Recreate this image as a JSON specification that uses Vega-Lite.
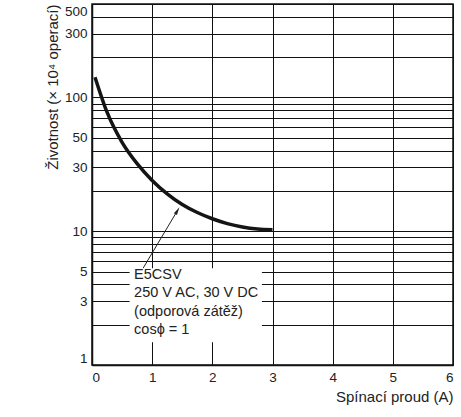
{
  "$schema": "https://vega.github.io/schema/vega-lite/v6.json",
  "width": 361,
  "height": 361,
  "autosize": {"type": "none"},
  "padding": {"left": 92, "top": 4, "right": 8, "bottom": 52},
  "background": "white",
  "config": {
    "view": {"stroke": "#111", "strokeWidth": 1.5},
    "font": "Liberation Sans",
    "axis": {
      "labelFont": "Liberation Sans",
      "titleFont": "Liberation Sans",
      "labelColor": "#222",
      "titleColor": "#222",
      "titleFontWeight": "normal",
      "gridColor": "#111",
      "gridOpacity": 1,
      "gridWidth": 1,
      "domainColor": "#111",
      "domainWidth": 1.5,
      "ticks": false
    }
  },
  "datasets": {
    "curve": [
      {"current": 0.05, "life": 141.9},
      {"current": 0.25, "life": 77.6},
      {"current": 0.5, "life": 46.2},
      {"current": 0.75, "life": 32.0},
      {"current": 1.0, "life": 24.0},
      {"current": 1.25, "life": 19.05},
      {"current": 1.5, "life": 15.85},
      {"current": 1.75, "life": 13.8},
      {"current": 2.0, "life": 12.4},
      {"current": 2.25, "life": 11.4},
      {"current": 2.5, "life": 10.76},
      {"current": 2.75, "life": 10.4},
      {"current": 3.0, "life": 10.28}
    ],
    "box": [{"x1": 0.625, "x2": 2.824, "y1": 1.48, "y2": 5.28}],
    "labels": [
      {"x": 0.7, "y": 4.69, "text": "E5CSV"},
      {"x": 0.7, "y": 3.44, "text": "250 V AC, 30 V DC"},
      {"x": 0.7, "y": 2.48, "text": "(odporová zátěž)"},
      {"x": 0.7, "y": 1.82, "text": "cosϕ = 1"}
    ],
    "arrow": [{"x1": 0.85, "y1": 5.3, "x2": 1.42, "y2": 14.26}],
    "head": [{"x": 1.42, "y": 14.26}]
  },
  "layer": [
    {
      "data": {"name": "box"},
      "mark": {"type": "rect", "fill": "white", "stroke": null},
      "encoding": {
        "x": {
          "field": "x1", "type": "quantitative",
          "scale": {"domain": [0, 6], "nice": false, "zero": false},
          "axis": {
            "values": [0, 1, 2, 3, 4, 5, 6],
            "format": "d",
            "grid": true,
            "labelFontSize": 13.5,
            "labelPadding": 5,
            "title": "Spínací proud (A)",
            "titleFontSize": 15,
            "titleAnchor": "end",
            "titlePadding": 6
          }
        },
        "x2": {"field": "x2"},
        "y": {
          "field": "y1", "type": "quantitative",
          "scale": {"type": "log", "domain": [1, 500], "nice": false},
          "axis": {
            "values": [1, 2, 3, 4, 5, 6, 7, 8, 9, 10, 20, 30, 40, 50, 60, 70, 80, 90, 100, 200, 300, 400, 500],
            "labelExpr": "indexof([1,3,5,10,30,50,100,300,500], datum.value) >= 0 ? datum.label : ''",
            "labelFlush": true,
            "grid": true,
            "labelFontSize": 13.5,
            "labelPadding": 5,
            "title": "Životnost (× 10⁴ operací)",
            "titleFontSize": 15,
            "titleAnchor": "end",
            "titlePadding": 4
          }
        },
        "y2": {"field": "y2"}
      }
    },
    {
      "data": {"name": "curve"},
      "mark": {"type": "line", "interpolate": "monotone", "color": "#151515", "strokeWidth": 3.5, "strokeCap": "butt"},
      "encoding": {
        "x": {"field": "current", "type": "quantitative"},
        "y": {"field": "life", "type": "quantitative"}
      }
    },
    {
      "data": {"name": "arrow"},
      "mark": {"type": "rule", "color": "#222", "strokeWidth": 1},
      "encoding": {
        "x": {"field": "x1", "type": "quantitative"},
        "x2": {"field": "x2"},
        "y": {"field": "y1", "type": "quantitative"},
        "y2": {"field": "y2"}
      }
    },
    {
      "data": {"name": "head"},
      "mark": {"type": "point", "shape": "M0,-1L0.45,1L-0.45,1Z", "filled": true, "color": "#222", "opacity": 1, "size": 64, "angle": 30.8},
      "encoding": {
        "x": {"field": "x", "type": "quantitative"},
        "y": {"field": "y", "type": "quantitative"}
      }
    },
    {
      "data": {"name": "labels"},
      "mark": {"type": "text", "align": "left", "baseline": "middle", "fontSize": 14.5, "font": "Liberation Sans", "color": "#222"},
      "encoding": {
        "x": {"field": "x", "type": "quantitative"},
        "y": {"field": "y", "type": "quantitative"},
        "text": {"field": "text"}
      }
    }
  ]
}
